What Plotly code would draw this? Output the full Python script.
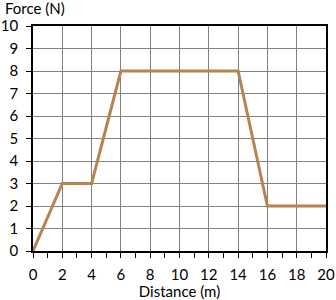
import plotly.graph_objects as go

distance = [0, 2, 4, 6, 14, 16, 20]
force = [0, 3, 3, 8, 8, 2, 2]
x_ticks = list(range(0, 21, 2))
y_ticks = list(range(0, 11, 1))

fig = go.Figure()
fig.add_trace(go.Scatter(x=distance, y=force, mode="lines",
                         line=dict(color="#B5844F", width=3), showlegend=False))

font = dict(family="Lato, Open Sans, sans-serif", size=15, color="black")
fig.update_layout(
    width=336, height=300,
    margin=dict(l=33, r=10, t=26, b=49, autoexpand=False),
    paper_bgcolor="white", plot_bgcolor="white",
    font=font,
    xaxis=dict(range=[0, 20], tickvals=x_ticks, ticks="outside", ticklen=5,
               tickcolor="black", tickwidth=1, automargin=False, ticklabelstandoff=4,
               minor=dict(dtick=1, ticks="outside", ticklen=5, tickcolor="black", showgrid=False),
               showgrid=True, gridcolor="#808080", gridwidth=1,
               showline=True, linecolor="black", linewidth=1.5, mirror=True,
               zeroline=False, title=dict(text="Distance (m)", standoff=0, font=font)),
    yaxis=dict(range=[0, 10], tickvals=y_ticks, ticks="outside", ticklen=5,
               tickcolor="black", tickwidth=1, automargin=False, ticklabelstandoff=5,
               showgrid=True, gridcolor="#808080", gridwidth=1,
               showline=True, linecolor="black", linewidth=1.5, mirror=True,
               zeroline=False),
    annotations=[dict(text="Force (N)", x=0, y=1, xref="paper", yref="paper",
                      xshift=-30, yshift=7,
                      xanchor="left", yanchor="bottom", showarrow=False, font=font)],
)
fig.write_html("out.html")
